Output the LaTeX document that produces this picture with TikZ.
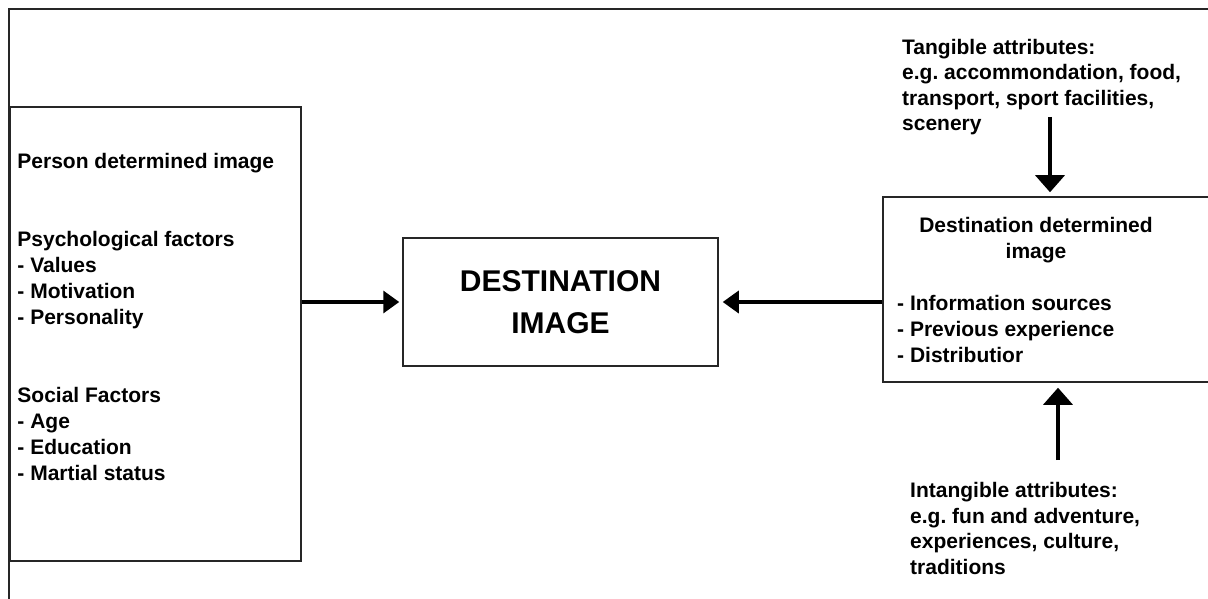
\documentclass[tikz,border=0pt]{standalone}
\usepackage{fontspec}
\setmainfont{Liberation Sans}
\frenchspacing
\usetikzlibrary{positioning,calc,arrows.meta}
\tikzset{
  img box/.style={rectangle, draw=black!85, line width=1.5pt, inner sep=0pt},
  img text/.style={font=\fontsize{21}{26}\selectfont\bfseries, align=left, inner sep=0pt, anchor=north west},
  img arrow/.style={line width=3.5pt, -{Triangle[length=16pt, width=22pt]}},
  img varrow/.style={line width=3.5pt, -{Triangle[length=17pt, width=29pt]}}
}

\begin{document}
\begin{tikzpicture}[x=1pt, y=-1pt]
    \path[use as bounding box, clip] (0,0) rectangle (1208,599);

    % Frame
    \draw[line width=1.5pt, black!85] (9,9) rectangle (1230,620);

    % Boxes
    \node[img box, minimum width=291pt, minimum height=454pt] (personbox) at (155.5,334) {};
    \node[img box, minimum width=315pt, minimum height=128pt, align=center,
          font=\fontsize{30}{42}\selectfont\bfseries] (destbox) at (560.5,302) {DESTINATION\\IMAGE};
    \node[img box, minimum width=335pt, minimum height=185pt] (destright) at (1050.5,289.5) {};

    % Box texts
    \node[img text] (persontext) at ([shift={(8,47)}]personbox.north west)
        {Person determined image\\[52pt]Psychological factors\\- Values\\- Motivation\\- Personality\\[52pt]Social Factors\\- Age\\- Education\\- Martial status};
    \node[img text, anchor=north, align=center] (desthead) at (1036,217) {Destination determined\\image};
    \node[img text] (destlist) at (897,295) {- Information sources\\- Previous experience\\- Distributior};

    % Attributes
    \node[img text, font=\fontsize{21}{25.5}\selectfont\bfseries] (tangible) at (902,39)
        {Tangible attributes:\\e.g. accommondation, food,\\transport, sport facilities,\\scenery};
    \node[img text, font=\fontsize{21}{25.7}\selectfont\bfseries] (intangible) at (910,482)
        {Intangible attributes:\\e.g. fun and adventure,\\experiences, culture,\\traditions};

    % Connections
    \coordinate (tangtail) at (1050,117);
    \coordinate (intangtail) at (1058,460);
    \draw[img arrow, shorten >=3pt] (personbox.east |- destbox.west) -- (destbox.west);
    \draw[img arrow, shorten >=4pt] (destright.west |- destbox.east) -- (destbox.east);
    \draw[img varrow, shorten >=4pt] (tangtail) -- (tangtail |- destright.north);
    \draw[img varrow, shorten >=5pt] (intangtail) -- (intangtail |- destright.south);
\end{tikzpicture}
\end{document}
